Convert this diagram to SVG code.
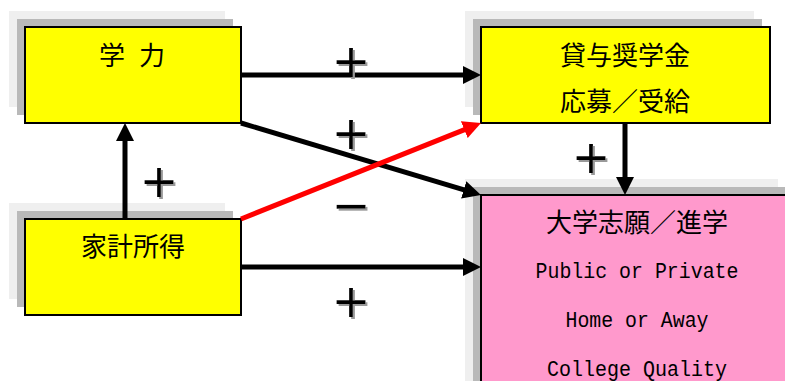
<svg xmlns="http://www.w3.org/2000/svg" width="785" height="381" viewBox="0 0 785 381">
<style>
.sh1{fill:#efefef}
.sh2{fill:#b9b9b9}
.yb{fill:#ffff00;stroke:#000;stroke-width:2}
.pb{fill:#ff99cc;stroke:#000;stroke-width:2}
.jp{font-family:"Noto Sans CJK JP","Noto Sans",sans-serif;font-size:26px;fill:#000;text-anchor:middle}
.en{font-family:"Liberation Mono","DejaVu Sans Mono",monospace;font-size:22px;fill:#000;text-anchor:middle}
.sg{font-family:"DejaVu Sans",sans-serif;font-size:46px;fill:#000;text-anchor:middle;filter:url(#ds)}
.ln{stroke:#000;stroke-width:5;fill:none;marker-end:url(#ah)}
.lr{stroke:#ff0000;stroke-width:5;fill:none;marker-end:url(#ahr)}
</style>
<defs>
<marker id="ah" markerUnits="userSpaceOnUse" markerWidth="18" markerHeight="18" refX="3" refY="9" orient="auto"><path d="M0,0 L18,9 L0,18 z" fill="#000"/></marker>
<marker id="ahr" markerUnits="userSpaceOnUse" markerWidth="18" markerHeight="18" refX="3" refY="9" orient="auto"><path d="M0,0 L18,9 L0,18 z" fill="#ff0000"/></marker>
<filter id="ds" x="-20%" y="-20%" width="150%" height="150%"><feDropShadow dx="2" dy="2" stdDeviation="0.6" flood-color="#999999"/></filter>
</defs>
<g id="node-gakuryoku">
<rect class="sh1" x="9" y="11" width="216" height="96"/>
<rect class="sh2" x="17" y="19" width="216" height="96"/>
<rect class="yb" x="25" y="27" width="216" height="96"/>
<text class="jp" x="132" y="65" word-spacing="8">学 力</text>
</g>
<g id="node-scholarship">
<rect class="sh1" x="465" y="11" width="289" height="96"/>
<rect class="sh2" x="473" y="19" width="289" height="96"/>
<rect class="yb" x="481" y="27" width="289" height="96"/>
<text class="jp" x="625" y="65">貸与奨学金</text>
<text class="jp" x="625" y="111">応募／受給</text>
</g>
<g id="node-income">
<rect class="sh1" x="9" y="203" width="216" height="96"/>
<rect class="sh2" x="17" y="211" width="216" height="96"/>
<rect class="yb" x="25" y="219" width="216" height="96"/>
<text class="jp" x="133" y="256">家計所得</text>
</g>
<g id="node-college">
<rect class="sh1" x="465" y="179" width="313" height="220"/>
<rect class="sh2" x="473" y="187" width="313" height="220"/>
<rect class="pb" x="481" y="195" width="313" height="220"/>
<text class="jp" x="637" y="232">大学志願／進学</text>
<text class="en" x="637" y="278" textLength="203" lengthAdjust="spacingAndGlyphs">Public or Private</text>
<text class="en" x="637" y="327" textLength="143" lengthAdjust="spacingAndGlyphs">Home or Away</text>
<text class="en" x="637" y="376" textLength="180" lengthAdjust="spacingAndGlyphs">College Quality</text>
</g>
<g id="connectors">
<line class="ln" x1="241" y1="75" x2="466" y2="75"/>
<line class="ln" x1="241" y1="123" x2="466.6" y2="190.7"/>
<line class="lr" x1="241" y1="219" x2="467.1" y2="128.6"/>
<line class="ln" x1="241" y1="267" x2="466" y2="267"/>
<line class="ln" x1="125" y1="219" x2="125" y2="138"/>
<line class="ln" x1="625" y1="123" x2="625" y2="180"/>
</g>
<g id="labels">
<text class="sg" x="351" y="77">+</text>
<text class="sg" x="351" y="149">+</text>
<text class="sg" x="351" y="221">−</text>
<text class="sg" x="351" y="317">+</text>
<text class="sg" x="159" y="197">+</text>
<text class="sg" x="591" y="173">+</text>
</g>
</svg>
